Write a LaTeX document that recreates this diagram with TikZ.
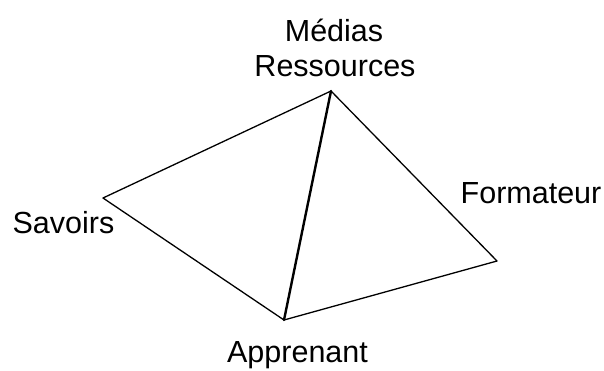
\documentclass[tikz,border=0pt]{standalone}
\usepackage{fontspec}
\setmainfont{Liberation Sans}
\begin{document}
\begin{tikzpicture}[x=1pt,y=-1pt,
  lbl/.style={anchor=base,inner sep=0pt,font=\fontsize{30.5}{36}\selectfont},
  edge/.style={line width=1.3pt,line join=round,line cap=round},
  thickedge/.style={line width=2.4pt,line cap=round}]
\useasboundingbox[fill=white] (0,0) rectangle (604,370);
\coordinate (T) at (331,91);
\coordinate (L) at (103,198);
\coordinate (B) at (284,320);
\coordinate (R) at (497,261);
\draw[edge] (T) -- (L) -- (B) -- (R) -- (T);
\draw[thickedge] (T) -- (B);
\node[lbl] (medias) at (334,41) {Médias};
\node[lbl] (ressources) at (335,76) {Ressources};
\node[lbl] (savoirs) at (63.5,233) {Savoirs};
\node[lbl] (formateur) at (531,203) {Formateur};
\node[lbl] (apprenant) at (297.5,362) {Apprenant};
\end{tikzpicture}
\end{document}
